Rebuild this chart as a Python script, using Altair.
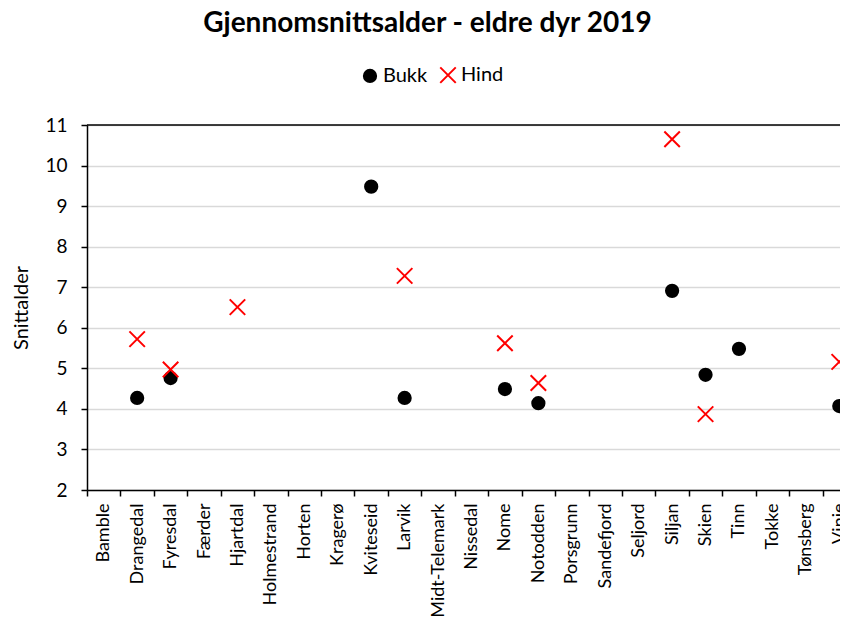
import altair as alt
import pandas as pd

kommuner = ["Bamble", "Drangedal", "Fyresdal", "Færder", "Hjartdal", "Holmestrand",
            "Horten", "Kragerø", "Kviteseid", "Larvik", "Midt-Telemark", "Nissedal",
            "Nome", "Notodden", "Porsgrunn", "Sandefjord", "Seljord", "Siljan",
            "Skien", "Tinn", "Tokke", "Tønsberg", "Vinje"]

bukk = [None, 4.27, 4.76, None, None, None, None, None, 9.48, 4.27, None, None,
        4.49, 4.14, None, None, None, 6.91, 4.84, 5.48, None, None, 4.07]
hind = [None, 5.72, 4.97, None, 6.51, None, None, None, None, 7.28, None, None,
        5.62, 4.64, None, None, None, 10.65, 3.87, None, None, None, 5.16]

serier = ["Bukk", "Hind"]
y_ticks = list(range(2, 12))

rows = []
for k, b, h in zip(kommuner, bukk, hind):
    if b is not None:
        rows.append({"Kommune": k, "Serie": "Bukk", "Snittalder": b})
    if h is not None:
        rows.append({"Kommune": k, "Serie": "Hind", "Snittalder": h})
df = pd.DataFrame(rows)

FONT = "Lato"
XPATH = "M-1,-1L1,1M-1,1L1,-1"

legend = alt.Legend(title=None, orient="none", direction="horizontal",
                    legendX=273, legendY=-60, labelFontSize=20, labelFont=FONT,
                    labelColor="#000000", symbolStrokeWidth=2,
                    columnPadding=8, labelOffset=3)

points = alt.Chart(df).mark_point(strokeWidth=2, opacity=1, clip=False).encode(
    x=alt.X("Kommune:N", sort=kommuner,
            scale=alt.Scale(domain=kommuner, range=[0, 769], paddingInner=0, paddingOuter=0),
            axis=alt.Axis(title=None, labelAngle=-90, labelFontSize=18, labelColor="#000000",
                          labelFont=FONT, grid=False, domainColor="#000000", domainWidth=1.5,
                          tickColor="#000000", tickWidth=1.5, tickSize=6, tickBand="extent",
                          labelPadding=7)),
    y=alt.Y("Snittalder:Q",
            scale=alt.Scale(domain=[2, 11], nice=False, zero=False),
            axis=alt.Axis(title="Snittalder", values=y_ticks, titleFontSize=20,
                          titleFont=FONT, titleFontWeight="normal", titleColor="#000000",
                          titlePadding=13, labelFontSize=19, labelFont=FONT,
                          labelColor="#000000", gridColor="#d9d9d9", gridWidth=1.5,
                          domainColor="#000000", domainWidth=1.5, tickColor="#000000",
                          tickWidth=1.5, tickSize=6, labelPadding=14)),
    shape=alt.Shape("Serie:N", scale=alt.Scale(domain=serier, range=["circle", XPATH]),
                    legend=legend),
    fill=alt.Fill("Serie:N", scale=alt.Scale(domain=serier, range=["#000000", "transparent"]),
                  legend=legend),
    stroke=alt.Stroke("Serie:N", scale=alt.Scale(domain=serier, range=["#000000", "#ff0000"]),
                      legend=legend),
    size=alt.Size("Serie:N", scale=alt.Scale(domain=serier, range=[150, 240]), legend=legend),
)

top_line = alt.Chart(pd.DataFrame({"Snittalder": [11]})).mark_rule(
    color="#000000", strokeWidth=1.5).encode(y="Snittalder:Q")

chart = alt.layer(points, top_line).properties(
    width=753,
    height=365,
    title=alt.Title("Gjennomsnittsalder - eldre dyr 2019", font=FONT, fontSize=28,
                    fontWeight="bold", color="#000000", anchor="middle", dx=-36, offset=27),
    padding={"left": 79, "top": 117, "right": 0, "bottom": 140},
    autosize=alt.AutoSizeParams(type="none"),
).configure_view(strokeWidth=0)

chart.save("out.html", embed_options={"renderer": "svg", "actions": False})
